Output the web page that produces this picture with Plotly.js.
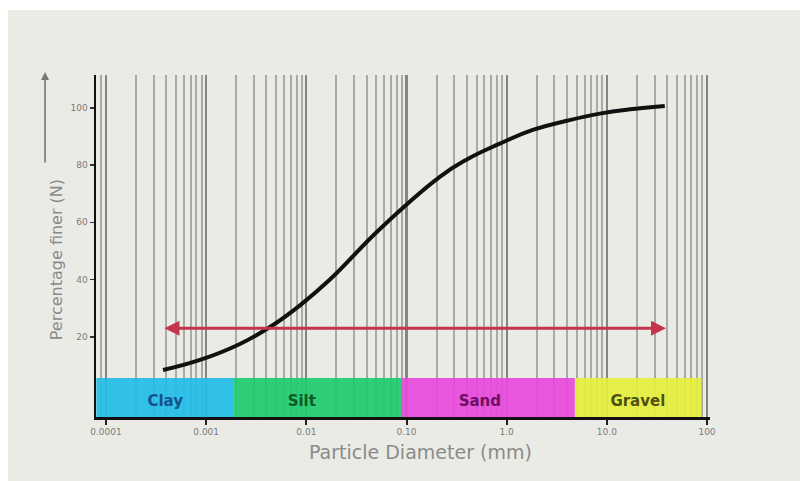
<!DOCTYPE html>
<html>
<head>
<meta charset="utf-8">
<script src="https://cdn.plot.ly/plotly-3.0.1.min.js"></script>
<style>
  html, body { margin: 0; padding: 0; background: #ffffff; width: 800px; height: 481px; overflow: hidden; }
  #chart { position: absolute; left: 8px; top: 10px; width: 792px; height: 471px; }
</style>
</head>
<body>
<div id="chart"></div>
<script>
// ---- data ----
const diameters = [0.000371, 0.000867, 0.00217, 0.00433, 0.00864, 0.0172, 0.0543, 0.215, 0.401, 0.855, 1.82, 3.99, 8.51, 18.2, 37.9];
const percentFiner = [8.4, 11.9, 17.5, 23.4, 31, 40, 57.7, 75.9, 82, 87.5, 92.3, 95.5, 98, 99.6, 100.7];

const bandNames = ['Clay', 'Silt', 'Sand', 'Gravel'];
const bandFrom = [0.00008, 0.0019, 0.09, 4.8];
const bandTo = [0.0019, 0.09, 4.8, 88];
const bandLabelX = [0.00039, 0.009, 0.54, 20.4];
const bandBottom = -8;
const bandTop = 5.6;
const bandLabelY = -3;

const arrowRange = [0.00037, 39];
const arrowLevel = 23;

const xTickVals = [0.0001, 0.001, 0.01, 0.1, 1, 10, 100];
const xTickText = ['0.0001', '0.001', '0.01', '0.10', '1.0', '10.0', '100'];
const yTickVals = [20, 40, 60, 80, 100];

// ---- styles ----
const bandColors = ['#22bde6', '#1fcb6f', '#e64adc', '#e5ef3d'];
const bandTextColors = ['#17508c', '#0d5a24', '#6e0f63', '#4f500f'];

const minorVals = [];
for (let e = -5; e <= 2; e++) {
  for (let d = 2; d <= 9; d++) minorVals.push(d * Math.pow(10, e));
}

const traces = [];
bandNames.forEach((name, i) => {
  traces.push({
    type: 'scatter', mode: 'lines',
    x: [bandFrom[i], bandTo[i], bandTo[i], bandFrom[i], bandFrom[i]],
    y: [bandBottom, bandBottom, bandTop, bandTop, bandBottom],
    fill: 'toself', fillcolor: bandColors[i], opacity: 0.93,
    line: { width: 0 }, hoverinfo: 'skip', showlegend: false
  });
});
traces.push({
  type: 'scatter', mode: 'text',
  x: bandLabelX, y: bandNames.map(() => bandLabelY),
  text: bandNames,
  textfont: { family: 'DejaVu Sans', size: 15, color: bandTextColors, weight: 'bold' },
  textposition: 'middle center', hoverinfo: 'skip', showlegend: false
});
traces.push({
  type: 'scatter', mode: 'lines',
  x: diameters, y: percentFiner,
  line: { color: '#111111', width: 4, shape: 'spline', smoothing: 1.3 },
  hoverinfo: 'skip', showlegend: false
});

const layout = {
  width: 792, height: 471,
  margin: { l: 88, r: 90, t: 65, b: 64 },
  paper_bgcolor: '#ebebe6', plot_bgcolor: '#ebebe6',
  showlegend: false,
  xaxis: {
    type: 'log', range: [-4.1, 2.03],
    tickmode: 'array', tickvals: xTickVals, ticktext: xTickText,
    ticks: 'outside', ticklen: 5, tickwidth: 2, tickcolor: '#222',
    tickfont: { family: 'DejaVu Sans', size: 9, color: '#7a7a7a' },
    showgrid: true, gridcolor: '#858581', gridwidth: 2.2,
    minor: { tickmode: 'array', tickvals: minorVals, showgrid: true, gridcolor: '#aaaaa5', gridwidth: 2, ticks: '' },
    showline: true, linecolor: '#111', linewidth: 2.5,
    zeroline: false, fixedrange: true
  },
  yaxis: {
    range: [-8.04, 111.5],
    tickmode: 'array', tickvals: yTickVals,
    ticks: 'outside', ticklen: 4, tickwidth: 1.5, tickcolor: '#333',
    tickfont: { family: 'DejaVu Sans', size: 9, color: '#7a7a7a' },
    showgrid: false, zeroline: false,
    showline: true, linecolor: '#111', linewidth: 2.5, fixedrange: true
  },
  annotations: [
    {
      x: Math.log10(arrowRange[1]), y: arrowLevel,
      ax: Math.log10(arrowRange[0]), ay: arrowLevel,
      xref: 'x', yref: 'y', axref: 'x', ayref: 'y',
      text: '', showarrow: true, arrowside: 'end+start',
      arrowhead: 2, startarrowhead: 2, arrowsize: 1, startarrowsize: 1,
      arrowwidth: 3, arrowcolor: '#c4344c'
    },
    {
      x: -0.083, y: 0.46, xref: 'paper', yref: 'paper',
      text: 'Percentage finer (N)', textangle: -90, showarrow: false,
      font: { family: 'DejaVu Sans', size: 16, color: '#8a8a8a' }
    },
    {
      x: -0.083, y: 1.009, xref: 'paper', yref: 'paper',
      ax: 0, ay: 92, text: '', showarrow: true,
      arrowhead: 2, arrowsize: 1, arrowwidth: 1.6, arrowcolor: '#777'
    },
    {
      x: 0.528, y: -0.14, xref: 'paper', yref: 'paper',
      text: 'Particle Diameter (mm)', showarrow: false,
      font: { family: 'DejaVu Sans', size: 19, color: '#8a8a8a' }
    }
  ]
};

Plotly.newPlot('chart', traces, layout, { staticPlot: true, displayModeBar: false });
</script>
</body>
</html>
